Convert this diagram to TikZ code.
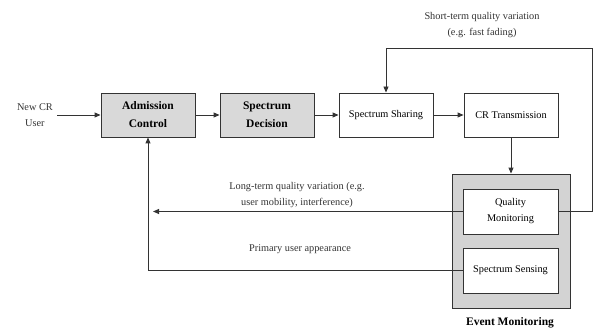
\documentclass[tikz,border=0pt]{standalone}
\usepackage{fontspec}
\setmainfont{Liberation Serif}
\usetikzlibrary{arrows.meta}
\definecolor{boxgray}{HTML}{D9D9D9}
\definecolor{outergray}{HTML}{D3D3D3}
\definecolor{linec}{HTML}{333333}
\tikzset{
  blk/.style={draw=linec, line width=0.9pt, minimum width=94pt, minimum height=44pt, inner sep=2pt, align=center},
  grayblk/.style={blk, fill=boxgray, font=\fontsize{11.5}{18}\selectfont\bfseries},
  whiteblk/.style={blk, fill=white, font=\fontsize{10.3}{16}\selectfont},
  lbl/.style={align=center, text=linec, font=\fontsize{10.3}{16}\selectfont},
  conn/.style={draw=linec, line width=0.9pt},
  arr/.style={conn, -{Triangle[length=6pt,width=5pt]}}
}
\begin{document}
\begin{tikzpicture}[x=1pt,y=-1pt]
\useasboundingbox (0,0) rectangle (593,331);
% event monitoring outer box
\node[draw=linec, line width=0.9pt, fill=outergray, minimum width=118pt, minimum height=134pt] (em) at (511,241) {};
\node[font=\fontsize{11.5}{14}\selectfont\bfseries] (emlbl) at (510,323) {Event Monitoring};
% blocks
\node[grayblk] (ac) at (148,115) {Admission\\Control};
\node[grayblk] (sd) at (267,115) {Spectrum\\Decision};
\node[whiteblk] (ss) at (386,115) {Spectrum Sharing};
\node[whiteblk] (crt) at (511,115) {CR Transmission};
\node[whiteblk, minimum width=95pt, minimum height=45pt] (qm) at (510.5,211.5) {Quality\\Monitoring};
\node[whiteblk, minimum width=95pt, minimum height=45pt] (sens) at (510.5,270.5) {Spectrum Sensing};
% labels
\node[lbl, anchor=east, inner sep=0pt] (new) at (53,115) {New CR\\User};
\node[lbl] (stl) at (482,25) {Short-term quality variation\\(e.g. fast fading)};
\node[lbl] (ltl) at (297,195) {Long-term quality variation (e.g.\\user mobility, interference)};
\node[lbl] (pul) at (300,249) {Primary user appearance};
% coordinates
\coordinate (c1) at (592,48);
\coordinate (ltend) at (153,211.5);
\coordinate (newstart) at (57,115);
% connectors
\draw[arr] (newstart) -- (ac.west);
\draw[arr] (ac) -- (sd);
\draw[arr] (sd) -- (ss);
\draw[arr] (ss) -- (crt);
\draw[arr] (crt.south) -- (em.north);
\draw[arr] (qm.east) -| (c1) -| (ss.north);
\draw[arr] (qm.west) -- (ltend);
\draw[arr] (sens.west) -| (ac.south);
\end{tikzpicture}
\end{document}
